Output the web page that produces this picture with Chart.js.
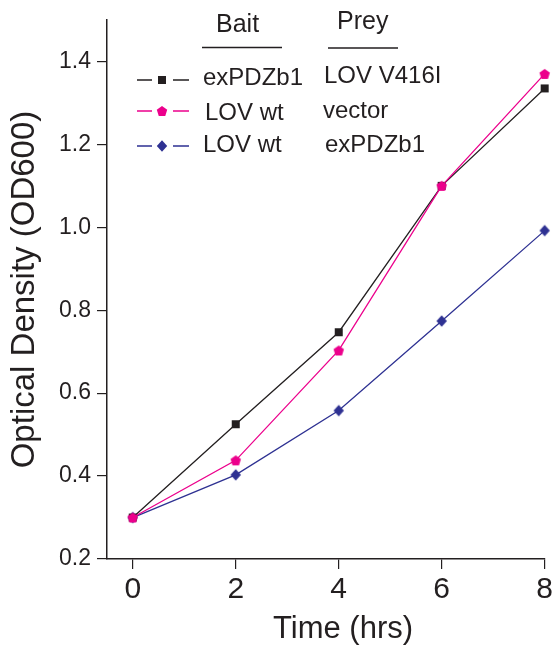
<!DOCTYPE html>
<html>
<head>
<meta charset="utf-8">
<script src="https://cdn.jsdelivr.net/npm/chart.js@4.4.0/dist/chart.umd.min.js"></script>
<style>
  html, body { margin: 0; padding: 0; background: #fff; }
  #wrap { width: 556px; height: 654px; }
</style>
</head>
<body>
<div id="wrap"><canvas id="growthChart" width="556" height="654"></canvas></div>
<script>
// time points (hrs)
const timeHours = [0, 2, 4, 6, 8];
// OD600 readings per strain
const odExpdzLov416 = [0.30, 0.525, 0.747, 1.10, 1.335];
const odLovVector = [0.30, 0.438, 0.703, 1.10, 1.37];
const odLovExpdz = [0.30, 0.403, 0.558, 0.774, 0.992];
// legend table
const baitNames = ["exPDZb1", "LOV wt", "LOV wt"];
const preyNames = ["LOV V416I", "vector", "exPDZb1"];
// axis ticks
const xTicks = [0, 2, 4, 6, 8];
const yTicks = [0.2, 0.4, 0.6, 0.8, 1.0, 1.2, 1.4];

const FONT = "'Liberation Sans', Arial, Helvetica, sans-serif";
const INK = "#231f20";
const colors = ["#231f20", "#ec008c", "#2e3192"];

// marker images (no pentagon in chart.js so draw them all by hand)
function makeMarker(shape, color) {
  const size = 14;
  const c = document.createElement("canvas");
  c.width = size;
  c.height = size;
  const g = c.getContext("2d");
  const m = size / 2;
  g.fillStyle = color;
  g.beginPath();
  if (shape === "square") {
    g.rect(m - 4, m - 4, 8, 8);
  } else if (shape === "pentagon") {
    const r = 5.5;
    for (let i = 0; i < 5; i++) {
      const a = -Math.PI / 2 + i * 2 * Math.PI / 5;
      const px = m + r * Math.cos(a);
      const py = m + 0.5 + r * Math.sin(a);
      if (i === 0) g.moveTo(px, py); else g.lineTo(px, py);
    }
    g.closePath();
  } else {
    g.moveTo(m, m - 5.8);
    g.lineTo(m + 5.2, m);
    g.lineTo(m, m + 5.8);
    g.lineTo(m - 5.2, m);
    g.closePath();
  }
  g.fill();
  return c;
}

const markers = [
  makeMarker("square", colors[0]),
  makeMarker("pentagon", colors[1]),
  makeMarker("diamond", colors[2]),
];

const legendTable = {
  id: "legendTable",
  afterDraw(chart) {
    const ctx = chart.ctx;
    ctx.save();
    ctx.fillStyle = INK;
    ctx.strokeStyle = INK;
    ctx.textAlign = "left";
    ctx.textBaseline = "alphabetic";

    // headers
    ctx.font = "25px " + FONT;
    ctx.fillText("Bait", 216, 32);
    ctx.fillText("Prey", 337, 29);
    ctx.lineWidth = 1.3;
    ctx.beginPath();
    ctx.moveTo(202, 47.5); ctx.lineTo(282, 47.5);
    ctx.moveTo(328, 48); ctx.lineTo(398, 48);
    ctx.stroke();

    // rows
    const rowY = [80, 111, 146];
    const baitX = [203, 205, 203];
    const baitBase = [85, 120, 152];
    const preyX = [324, 323, 325];
    const preyBase = [83, 118, 152];
    ctx.font = "24px " + FONT;
    rowY.forEach((y, i) => {
      ctx.strokeStyle = colors[i];
      ctx.lineWidth = 1.3;
      ctx.beginPath();
      ctx.moveTo(137, y); ctx.lineTo(152, y);
      ctx.moveTo(173, y); ctx.lineTo(189, y);
      ctx.stroke();
      ctx.drawImage(markers[i], 162 - markers[i].width / 2, y - markers[i].height / 2);
      ctx.fillStyle = INK;
      ctx.fillText(baitNames[i], baitX[i], baitBase[i]);
      ctx.fillText(preyNames[i], preyX[i], preyBase[i]);
    });

    // x axis title
    ctx.font = "31px " + FONT;
    ctx.textAlign = "center";
    ctx.fillText("Time (hrs)", 343, 638);
    ctx.restore();
  },
};

const ctx = document.getElementById("growthChart").getContext("2d");

const lineSet = (data, i, order) => ({
  data: timeHours.map((t, k) => ({ x: t, y: data[k] })),
  borderColor: colors[i],
  backgroundColor: colors[i],
  borderWidth: 1.3,
  pointStyle: markers[i],
  pointRadius: 5,
  pointHoverRadius: 5,
  tension: 0,
  clip: false,
  order,
});

new Chart(ctx, {
  type: "line",
  data: {
    datasets: [
      lineSet(odExpdzLov416, 0, 1),
      lineSet(odLovVector, 1, 0),
      lineSet(odLovExpdz, 2, 2),
    ],
  },
  options: {
    responsive: false,
    animation: false,
    events: [],
    layout: { padding: { top: 20, right: 11, left: 0, bottom: 0 } },
    plugins: {
      legend: { display: false },
      tooltip: { enabled: false },
    },
    scales: {
      x: {
        type: "linear",
        min: -0.5,
        max: 8,
        afterBuildTicks: (scale) => {
          scale.ticks = xTicks.map((v) => ({ value: v }));
        },
        afterFit: (scale) => { scale.height = 95; },
        grid: {
          drawOnChartArea: false,
          drawTicks: true,
          tickLength: 10,
          color: INK,
          lineWidth: 1.2,
        },
        border: { display: true, color: INK, width: 1.5 },
        ticks: {
          padding: 3,
          color: INK,
          font: { family: FONT, size: 30 },
          callback: (v) => String(v),
        },
      },
      y: {
        type: "linear",
        min: 0.2,
        max: 1.5,
        afterBuildTicks: (scale) => {
          scale.ticks = yTicks.map((v) => ({ value: v }));
        },
        afterFit: (scale) => { scale.width = 107; },
        grid: {
          drawOnChartArea: false,
          drawTicks: true,
          tickLength: 10,
          color: INK,
          lineWidth: 1.2,
        },
        border: { display: true, color: INK, width: 1.5 },
        ticks: {
          padding: 6,
          color: INK,
          font: { family: FONT, size: 23 },
          callback: (v) => Number(v).toFixed(1),
        },
        title: {
          display: true,
          text: "Optical Density (OD600)",
          color: INK,
          font: { family: FONT, size: 33 },
          padding: { top: 5, bottom: 0 },
        },
      },
    },
  },
  plugins: [legendTable],
});
</script>
</body>
</html>
